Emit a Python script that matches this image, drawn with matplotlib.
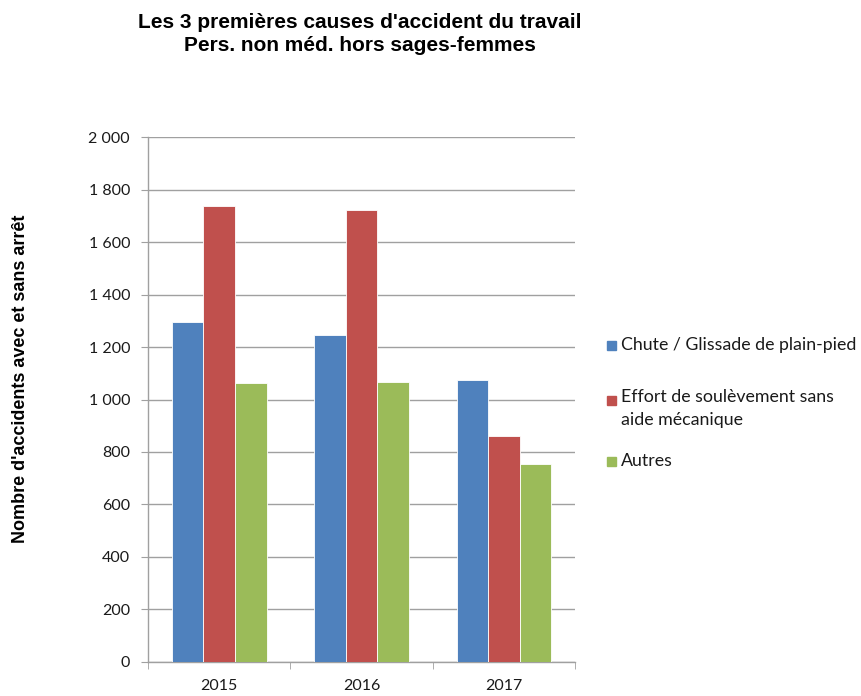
import matplotlib.pyplot as plt
import numpy as np
from matplotlib.patches import Rectangle
from matplotlib.ticker import FuncFormatter, FixedLocator

years = ["2015", "2016", "2017"]
chute = [1295, 1246, 1075]
effort = [1738, 1722, 860]
autres = [1063, 1068, 755]
series_labels = ["Chute / Glissade de plain-pied",
                 "Effort de soulèvement sans\naide mécanique",
                 "Autres"]
yticks = [0, 200, 400, 600, 800, 1000, 1200, 1400, 1600, 1800, 2000]

BLUE = "#4F81BD"; RED = "#C0504D"; GREEN = "#9BBB59"; GRID = "#A0A0A0"
TICKFONT = ["Lato", "DejaVu Sans"]
BOLDFONT = ["Liberation Sans", "DejaVu Sans"]
W, H = 861, 696

fig = plt.figure(figsize=(W / 100, H / 100), dpi=100)
ax = fig.add_axes([0.172, 0.049, 0.496, 0.754])

x = np.arange(len(years))
w = 0.222
colors = [BLUE, RED, GREEN]
for i, vals in enumerate([chute, effort, autres]):
    ax.bar(x + (i - 1) * w, vals, width=w, color=colors[i], edgecolor="white",
           linewidth=0.6, zorder=3)

ax.set_xlim(-0.5, 2.5)
ax.set_ylim(0, 2000)
ax.set_yticks(yticks)
ax.yaxis.set_major_formatter(FuncFormatter(lambda v, p: f"{int(v):,}".replace(",", " ")))
ax.yaxis.grid(True, color=GRID, linewidth=1.0, zorder=0)
ax.set_xticks(x)
ax.set_xticklabels(years)
ax.xaxis.set_minor_locator(FixedLocator([-0.5, 0.5, 1.5, 2.5]))
ax.tick_params(axis="x", which="major", length=0, pad=12)
ax.tick_params(axis="x", which="minor", length=5, color=GRID, direction="out")
ax.tick_params(axis="y", length=5, color=GRID, direction="out", pad=8)
for lab in ax.get_xticklabels() + ax.get_yticklabels():
    lab.set_family(TICKFONT)
    lab.set_fontsize(11.5)
    lab.set_color("#1A1A1A")
for s in ["top", "right"]:
    ax.spines[s].set_visible(False)
for s in ["left", "bottom"]:
    ax.spines[s].set_color(GRID)
    ax.spines[s].set_linewidth(1.0)

# y label placed by hand (Excel puts it off-centre)
fig.text(21 / W, 1 - 379 / H, "Nombre d'accidents avec et sans arrêt", rotation=90,
         ha="center", va="center", fontsize=13, fontweight="bold", family=BOLDFONT)

fig.text(360 / W, 1 - 34 / H, "Les 3 premières causes d'accident du travail\nPers. non méd. hors sages-femmes",
         ha="center", va="center", fontsize=15, fontweight="bold",
         family=BOLDFONT, linespacing=1.25)

# legend drawn by hand: marker sits on the first line of each entry
leg_y = [345, 400, 461]
for lbl, c, yy in zip(series_labels, colors, leg_y):
    fig.patches.append(Rectangle((607 / W, 1 - (yy + 4.5) / H), 9 / W, 9 / H,
                                 transform=fig.transFigure, color=c, figure=fig))
    if "\n" in lbl:
        fig.text(621 / W, 1 - (yy - 11) / H, lbl, ha="left", va="top",
                 fontsize=12.8, family=TICKFONT, linespacing=1.55, color="#1A1A1A")
    else:
        fig.text(621 / W, 1 - yy / H, lbl, ha="left", va="center",
                 fontsize=12.8, family=TICKFONT, color="#1A1A1A")

fig.savefig("out.png", dpi=100)
